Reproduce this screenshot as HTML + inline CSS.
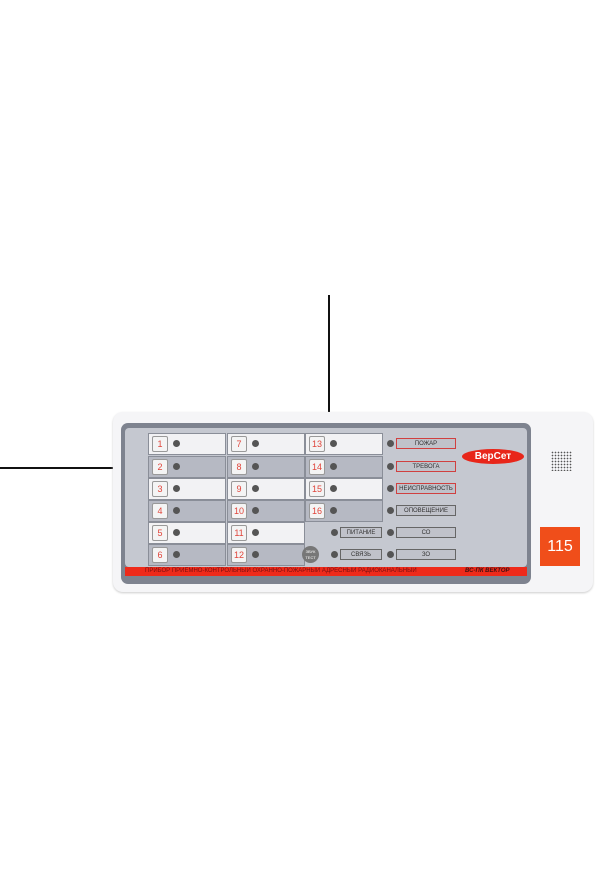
<!DOCTYPE html><html><head><style>
body{margin:0;width:600px;height:888px;background:#fff;position:relative;overflow:hidden;font-family:"Liberation Sans",sans-serif}
.a{position:absolute}
.c{position:absolute;border:1px solid #8a8e98;box-sizing:border-box}
.n{position:absolute;width:16px;height:16px;background:#f4f4f4;border:1px solid #999;box-sizing:border-box;color:#e0443a;font-size:9px;text-align:center;line-height:14px;border-radius:2px}
.l{position:absolute;width:7px;height:7px;border-radius:50%;background:#555}
.t{position:absolute;height:11px;background:#c0c2ca;border:1px solid #666;box-sizing:border-box;font-size:6px;text-align:center;line-height:10px;color:#333}
.r{border-color:#d04040}
</style></head><body>
<div class="a" style="left:328px;top:295px;width:2px;height:118px;background:#111"></div>
<div class="a" style="left:0;top:467px;width:114px;height:2px;background:#111"></div>
<div class="a" style="left:113px;top:412px;width:480px;height:180px;background:#f5f5f7;border-radius:10px;box-shadow:0 1px 2px #ccc"></div>
<div class="a" style="left:121px;top:423px;width:410px;height:161px;background:#7e838f;border-radius:7px"></div>
<div class="a" style="left:125px;top:428px;width:402px;height:139px;background:#c5c8d0;border-radius:4px"></div>
<div class="a" style="left:125px;top:567px;width:402px;height:9px;background:#ee2a1a;color:#7a1010;font-size:6px;line-height:9px;white-space:nowrap;overflow:hidden"><span style="margin-left:20px">ПРИБОР ПРИЁМНО-КОНТРОЛЬНЫЙ ОХРАННО-ПОЖАРНЫЙ АДРЕСНЫЙ РАДИОКАНАЛЬНЫЙ</span><span style="position:absolute;left:340px;font-style:italic;font-weight:bold;color:#401010">ВС-ПК ВЕКТОР</span></div>
<div id="g"></div>
<div class="a" style="left:462px;top:449px;width:62px;height:15px;border-radius:50%;background:#e8261a;color:#fff;font-size:10px;text-align:center;line-height:15px;font-weight:bold">ВерСет</div>
<div class="a" style="left:551px;top:451px;width:21px;height:20px;background:radial-gradient(#555 35%,transparent 40%) 0 0/3px 3px"></div>
<div class="a" style="left:540px;top:527px;width:40px;height:39px;background:#f04e1a;color:#fff;font-size:16px;text-align:center;line-height:39px">115</div>
<script>
var ys=[433,456,478,500,522,544],xs=[148,227,305],h='';
for(var c=0;c<3;c++)for(var r=0;r<6;r++){var n=c*6+r+1;if(n>16)continue;var y=ys[r],x=xs[c];
var bg=(r%2==0)?'#f2f2f4':'#b6b9c3';
h+='<div class="c" style="left:'+x+'px;top:'+y+'px;width:78px;height:22px;background:'+bg+'"></div>';
h+='<div class="n" style="left:'+(x+4)+'px;top:'+(y+3)+'px">'+n+'</div>';
h+='<div class="l" style="left:'+(x+25)+'px;top:'+(y+7)+'px"></div>';}
var lab=['ПОЖАР','ТРЕВОГА','НЕИСПРАВНОСТЬ','ОПОВЕЩЕНИЕ','СО','ЗО'];
for(var r=0;r<6;r++){var y=ys[r];h+='<div class="l" style="left:387px;top:'+(y+7)+'px"></div><div class="t'+(r<3?' r':'')+'" style="left:396px;top:'+(y+5)+'px;width:60px">'+lab[r]+'</div>';}
h+='<div class="l" style="left:331px;top:'+(ys[4]+7)+'px"></div><div class="t" style="left:340px;top:'+(ys[4]+5)+'px;width:42px">ПИТАНИЕ</div>';
h+='<div class="l" style="left:331px;top:'+(ys[5]+7)+'px"></div><div class="t" style="left:340px;top:'+(ys[5]+5)+'px;width:42px">СВЯЗЬ</div>';
h+='<div class="a" style="left:302px;top:546px;width:17px;height:17px;border-radius:50%;background:#777;color:#fff;font-size:4px;text-align:center;line-height:6px;padding-top:3px;box-sizing:border-box">ЗВУК<br>ТЕСТ</div>';
document.getElementById('g').innerHTML=h;
</script>
</body></html>
